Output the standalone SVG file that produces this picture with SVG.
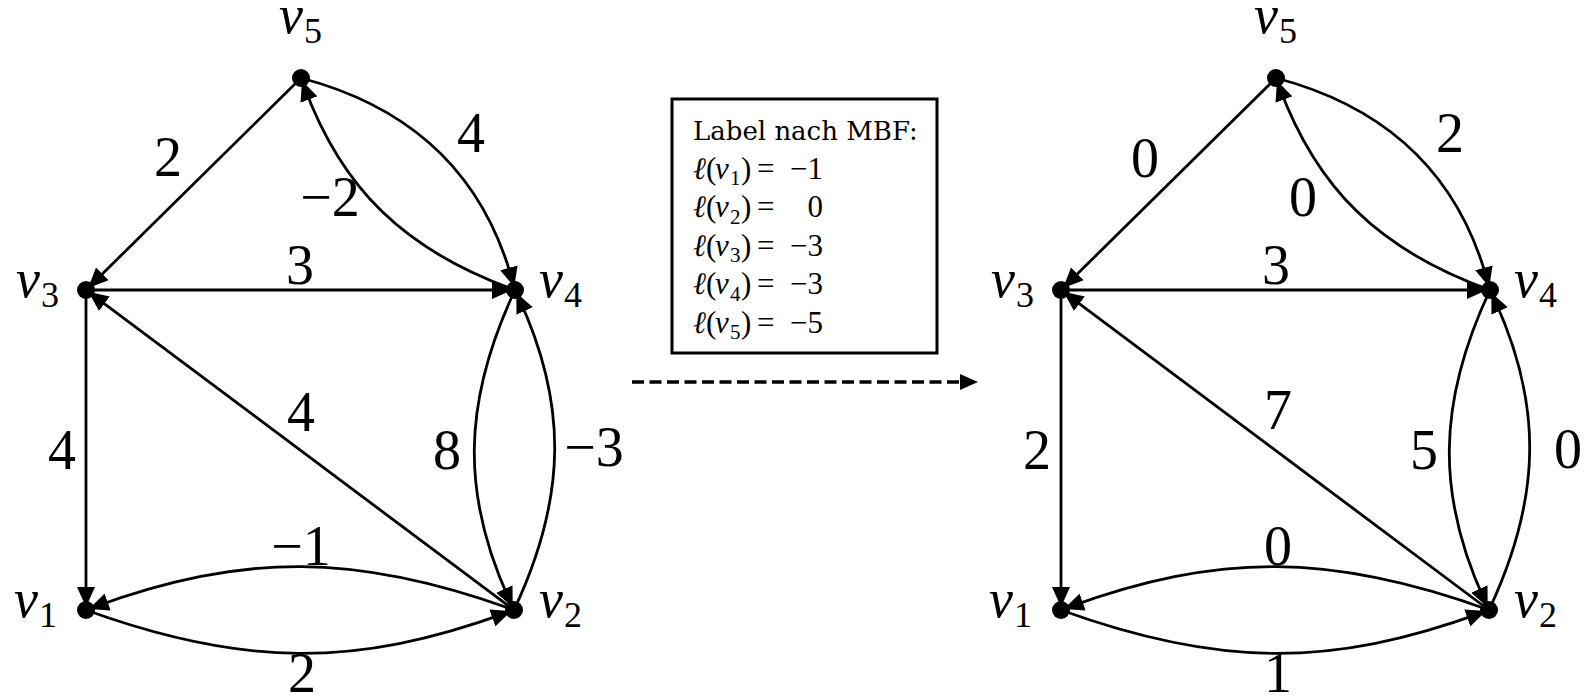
<svg xmlns="http://www.w3.org/2000/svg" width="1589" height="699" viewBox="0 0 1589 699">
<style>
.e{fill:none;stroke:#000;stroke-width:2.8;marker-end:url(#ah)}
.n{fill:#000}
.lbl{font-family:"Liberation Serif",serif;font-size:56px;text-anchor:middle;fill:#000}
.vl{font-family:"Liberation Serif",serif;font-size:54px;font-style:italic;fill:#000}
.sub{font-size:36px;font-style:normal}
.bx{font-family:"DejaVu Serif",serif;font-size:26px;fill:#000}
.bm{font-family:"Liberation Serif",serif;font-size:31px;fill:#000}
.bi{font-style:italic}
.bs{font-family:"Liberation Serif",serif;font-size:21px;fill:#000}
</style>
<defs>
<marker id="ah" markerUnits="userSpaceOnUse" viewBox="0 0 22 18" markerWidth="22" markerHeight="18" refX="14" refY="9" orient="auto"><path d="M0,0 L20,9 L0,18 Z" fill="#000"/></marker>
</defs>

<g id="graph-left">
<g id="connectors-left">
<path class="e" d="M301,78 L92.4,283.7"/>
<path class="e" d="M301,78 C415,108 483.9,176.3 512.6,281.3"/>
<path class="e" d="M515,290 C404,250.2 341.9,188.6 304.1,86.4"/>
<path class="e" d="M86,290 L506,290"/>
<path class="e" d="M86,290 L86,601"/>
<path class="e" d="M514,610 L93.2,295.4"/>
<path class="e" d="M515,290 C461.7,403.4 461.4,496.3 510.2,601.8"/>
<path class="e" d="M514,610 C567.3,496.6 567.6,403.7 518.8,298.2"/>
<path class="e" d="M514,610 C356.5,552.7 243.5,552.7 94.5,606.9"/>
<path class="e" d="M86,610 C243.5,667.3 356.5,667.3 505.5,613.1"/>
<text class="lbl" x="168" y="176">2</text>
<text class="lbl" x="471" y="152">4</text>
<text class="lbl" x="330" y="216">−2</text>
<text class="lbl" x="300" y="284">3</text>
<text class="lbl" x="62" y="469">4</text>
<text class="lbl" x="301" y="431">4</text>
<text class="lbl" x="447" y="469">8</text>
<text class="lbl" x="594" y="466">−3</text>
<text class="lbl" x="301" y="565">−1</text>
<text class="lbl" x="302" y="692">2</text>
</g>
<g id="left-v1"><circle class="n" cx="86" cy="610" r="9"/><text class="vl" x="14" y="617">v<tspan class="sub" dx="1" dy="10">1</tspan></text></g>
<g id="left-v2"><circle class="n" cx="514" cy="610" r="9"/><text class="vl" x="539" y="617">v<tspan class="sub" dx="1" dy="10">2</tspan></text></g>
<g id="left-v3"><circle class="n" cx="86" cy="290" r="9"/><text class="vl" x="16" y="297">v<tspan class="sub" dx="1" dy="10">3</tspan></text></g>
<g id="left-v4"><circle class="n" cx="515" cy="290" r="9"/><text class="vl" x="539" y="297">v<tspan class="sub" dx="1" dy="10">4</tspan></text></g>
<g id="left-v5"><circle class="n" cx="301" cy="78" r="9"/><text class="vl" x="279" y="33">v<tspan class="sub" dx="1" dy="10">5</tspan></text></g>
</g>

<g id="label-box">
<rect x="672" y="99" width="265" height="254" fill="#fff" stroke="#000" stroke-width="3"/>
<text class="bx" x="693" y="140">Label nach MBF:</text>
<g id="box-l1">
<text class="bm bi" x="693" y="178.5">ℓ</text><text class="bm" x="706" y="178.5">(</text><text class="bm bi" x="715" y="178.5">v</text><text class="bs" x="730" y="185">1</text><text class="bm" x="741" y="178.5">)</text><text class="bm" x="757" y="178.5">=</text><text class="bm" x="823" y="178.5" text-anchor="end">−1</text>
</g>
<g id="box-l2">
<text class="bm bi" x="693" y="217">ℓ</text><text class="bm" x="706" y="217">(</text><text class="bm bi" x="715" y="217">v</text><text class="bs" x="730" y="223.5">2</text><text class="bm" x="741" y="217">)</text><text class="bm" x="757" y="217">=</text><text class="bm" x="823" y="217" text-anchor="end">0</text>
</g>
<g id="box-l3">
<text class="bm bi" x="693" y="255.5">ℓ</text><text class="bm" x="706" y="255.5">(</text><text class="bm bi" x="715" y="255.5">v</text><text class="bs" x="730" y="262">3</text><text class="bm" x="741" y="255.5">)</text><text class="bm" x="757" y="255.5">=</text><text class="bm" x="823" y="255.5" text-anchor="end">−3</text>
</g>
<g id="box-l4">
<text class="bm bi" x="693" y="294">ℓ</text><text class="bm" x="706" y="294">(</text><text class="bm bi" x="715" y="294">v</text><text class="bs" x="730" y="300.5">4</text><text class="bm" x="741" y="294">)</text><text class="bm" x="757" y="294">=</text><text class="bm" x="823" y="294" text-anchor="end">−3</text>
</g>
<g id="box-l5">
<text class="bm bi" x="693" y="332.5">ℓ</text><text class="bm" x="706" y="332.5">(</text><text class="bm bi" x="715" y="332.5">v</text><text class="bs" x="730" y="339">5</text><text class="bm" x="741" y="332.5">)</text><text class="bm" x="757" y="332.5">=</text><text class="bm" x="823" y="332.5" text-anchor="end">−5</text>
</g>
</g>

<g id="transform-arrow">
<line x1="632" y1="382" x2="962" y2="382" stroke="#000" stroke-width="3.5" stroke-dasharray="12 5.5"/>
<polygon points="960,374 978,382 960,390" fill="#000"/>
</g>

<g id="graph-right" transform="translate(975,0)">
<g id="connectors-right">
<path class="e" d="M301,78 L92.4,283.7"/>
<path class="e" d="M301,78 C415,108 483.9,176.3 512.6,281.3"/>
<path class="e" d="M515,290 C404,250.2 341.9,188.6 304.1,86.4"/>
<path class="e" d="M86,290 L506,290"/>
<path class="e" d="M86,290 L86,601"/>
<path class="e" d="M514,610 L93.2,295.4"/>
<path class="e" d="M515,290 C461.7,403.4 461.4,496.3 510.2,601.8"/>
<path class="e" d="M514,610 C567.3,496.6 567.6,403.7 518.8,298.2"/>
<path class="e" d="M514,610 C356.5,552.7 243.5,552.7 94.5,606.9"/>
<path class="e" d="M86,610 C243.5,667.3 356.5,667.3 505.5,613.1"/>
<text class="lbl" x="170" y="177">0</text>
<text class="lbl" x="475" y="152">2</text>
<text class="lbl" x="328" y="216">0</text>
<text class="lbl" x="301" y="284">3</text>
<text class="lbl" x="62" y="469">2</text>
<text class="lbl" x="303" y="429">7</text>
<text class="lbl" x="449" y="469">5</text>
<text class="lbl" x="593" y="468">0</text>
<text class="lbl" x="303" y="565">0</text>
<text class="lbl" x="303" y="692">1</text>
</g>
<g id="right-v1"><circle class="n" cx="86" cy="610" r="9"/><text class="vl" x="14" y="617">v<tspan class="sub" dx="1" dy="10">1</tspan></text></g>
<g id="right-v2"><circle class="n" cx="514" cy="610" r="9"/><text class="vl" x="539" y="617">v<tspan class="sub" dx="1" dy="10">2</tspan></text></g>
<g id="right-v3"><circle class="n" cx="86" cy="290" r="9"/><text class="vl" x="16" y="297">v<tspan class="sub" dx="1" dy="10">3</tspan></text></g>
<g id="right-v4"><circle class="n" cx="515" cy="290" r="9"/><text class="vl" x="539" y="297">v<tspan class="sub" dx="1" dy="10">4</tspan></text></g>
<g id="right-v5"><circle class="n" cx="301" cy="78" r="9"/><text class="vl" x="279" y="33">v<tspan class="sub" dx="1" dy="10">5</tspan></text></g>
</g>
</svg>
